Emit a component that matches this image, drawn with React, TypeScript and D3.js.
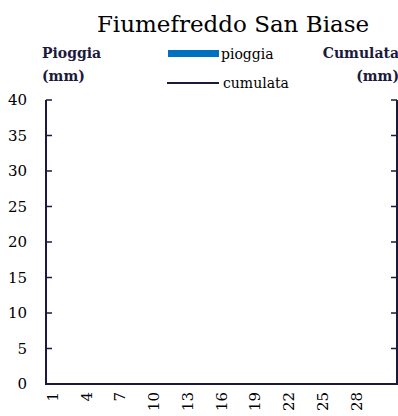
import React from "react";
import * as d3 from "d3";

const days: number[] = Array.from({ length: 31 }, (_, i) => i + 1);
const pioggia: number[] = days.map(() => 0);
const cumulata: number[] = days.map(() => 0);
const yTicks: number[] = [0, 5, 10, 15, 20, 25, 30, 35, 40];
const xTickLabels: number[] = [1, 4, 7, 10, 13, 16, 19, 22, 25, 28];

const W = 398, H = 416;
const M = { left: 46, right: 397, top: 100, bottom: 384 };
const AX = "#1c1a3c";
const FONT = "'DejaVu Serif', 'Liberation Serif', serif";

export default function App() {
  const x = d3.scaleBand<number>().domain(days).range([M.left, M.right]).padding(0.2);
  const y = d3.scaleLinear().domain([0, 40]).range([M.bottom, M.top]);
  const y2 = d3.scaleLinear().domain([0, 40]).range([M.bottom, M.top]);
  const line = d3.line<number>().x((d, i) => (x(days[i]) as number) + x.bandwidth() / 2).y((d) => y2(d));
  return (
    <svg width={W} height={H} style={{ position: "absolute", left: 0, top: 0 }} fontFamily={FONT}>
      <text x={233} y={32} textAnchor="middle" fontSize={23} fill="#000">Fiumefreddo San Biase</text>
      <text x={42} y={58} fontSize={14} fontWeight="bold" fill="#1c1a3c">Pioggia</text>
      <text x={42} y={81} fontSize={14} fontWeight="bold" fill="#1c1a3c">(mm)</text>
      <text x={399} y={58} textAnchor="end" fontSize={14} fontWeight="bold" fill="#1c1a3c">Cumulata</text>
      <text x={399} y={81} textAnchor="end" fontSize={14} fontWeight="bold" fill="#1c1a3c">(mm)</text>
      <rect x={168} y={50} width={51} height={7} fill="#0070c0" />
      <text x={221} y={59} fontSize={14} fill="#000">pioggia</text>
      <line x1={167} x2={219} y1={83} y2={83} stroke={AX} strokeWidth={2} />
      <text x={223} y={88} fontSize={14} fill="#000">cumulata</text>
      {pioggia.map((v, i) => (
        <rect key={i} x={x(days[i])} y={y(v)} width={x.bandwidth()} height={M.bottom - y(v)} fill="#0070c0" />
      ))}
      <path d={line(cumulata) || ""} fill="none" stroke={AX} strokeWidth={2} />
      <line x1={M.left} x2={M.left} y1={M.top} y2={M.bottom} stroke={AX} strokeWidth={2} />
      <line x1={M.right} x2={M.right} y1={M.top} y2={M.bottom} stroke={AX} strokeWidth={2} />
      <line x1={M.left - 1} x2={M.right + 1} y1={M.bottom} y2={M.bottom} stroke={AX} strokeWidth={2} />
      {yTicks.map((t) => (
        <g key={t}>
          <line x1={M.left} x2={M.left + 6} y1={y(t)} y2={y(t)} stroke={AX} strokeWidth={1.5} />
          <line x1={M.right - 6} x2={M.right} y1={y2(t)} y2={y2(t)} stroke={AX} strokeWidth={1.5} />
          <text x={27} y={y(t) + 5} textAnchor="end" fontSize={15} fill="#000">{t}</text>
        </g>
      ))}
      {xTickLabels.map((d) => {
        const cx = (x(d) as number) + x.bandwidth() / 2;
        return (
          <text key={d} transform={`translate(${cx + 5},${M.bottom + 8}) rotate(-90)`} textAnchor="end" fontSize={15} fill="#000">{d}</text>
        );
      })}
    </svg>
  );
}
